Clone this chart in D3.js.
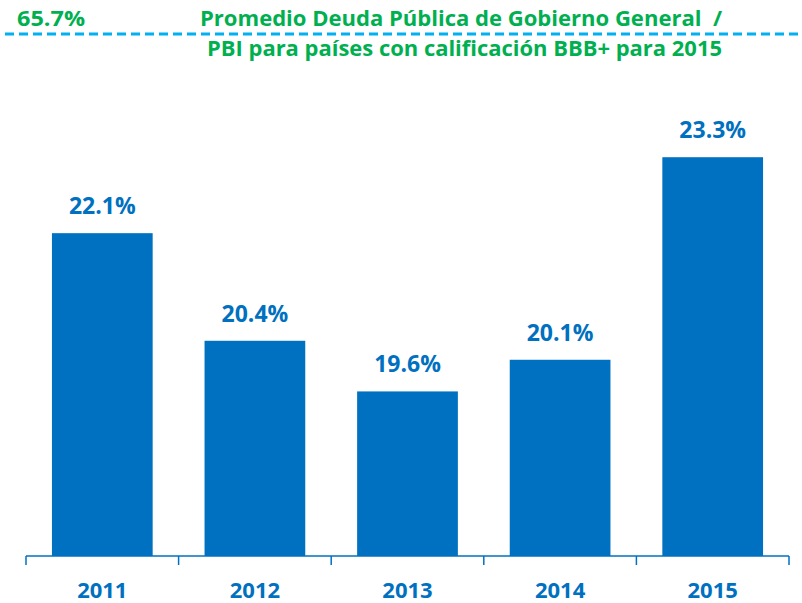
<!DOCTYPE html>
<html>
<head>
<meta charset="utf-8">
<script src="https://cdn.jsdelivr.net/npm/d3@7"></script>
<style>
  body { margin: 0; background: #fff; }
  text { font-family: "Open Sans", Lato, sans-serif; font-weight: bold; white-space: pre; }
</style>
</head>
<body>
<div id="chart"></div>
<script>
var years = ["2011", "2012", "2013", "2014", "2015"];
var values = [22.1, 20.4, 19.6, 20.1, 23.3];
var refValue = 65.7;
var titleLines = ["Promedio Deuda Pública de Gobierno General  /", "PBI para países con calificación BBB+ para 2015"];

var width = 802, height = 603;
var blue = "#0070C0", green = "#00B050";

var svg = d3.select("#chart").append("svg")
    .attr("width", width)
    .attr("height", height);

var x = d3.scaleBand()
    .domain(years)
    .range([26, 789])
    .paddingInner(0.34)
    .paddingOuter(0.17);

// axis does not start at zero in the original
var y = d3.scaleLinear()
    .domain([17, 25])
    .range([556, 49.6]);

// reference line
svg.append("line")
    .attr("x1", 5).attr("x2", 800)
    .attr("y1", 34).attr("y2", 34)
    .attr("stroke", "#00B0F0")
    .attr("stroke-width", 3)
    .attr("stroke-dasharray", "9,5");

svg.append("text")
    .attr("x", 17).attr("y", 26)
    .attr("textLength", 68)
    .attr("lengthAdjust", "spacingAndGlyphs")
    .attr("fill", green)
    .style("font-size", "22px")
    .text(refValue.toFixed(1) + "%");

svg.selectAll("text.title").data(titleLines)
    .enter().append("text")
    .attr("class", "title")
    .attr("x", function(d, i) { return i == 0 ? 200 : 207; })
    .attr("y", function(d, i) { return 26 + i * 30; })
    .attr("textLength", function(d, i) { return i == 0 ? 522 : 515; })
    .attr("lengthAdjust", "spacingAndGlyphs")
    .attr("fill", green)
    .style("font-size", "22px")
    .text(function(d) { return d; });

svg.selectAll("rect.bar").data(values)
    .enter().append("rect")
    .attr("class", "bar")
    .attr("x", function(d, i) { return x(years[i]); })
    .attr("width", x.bandwidth())
    .attr("y", function(d) { return y(d); })
    .attr("height", function(d) { return y.range()[0] - y(d); })
    .attr("fill", blue);

svg.selectAll("text.val").data(values)
    .enter().append("text")
    .attr("class", "val")
    .attr("x", function(d, i) { return x(years[i]) + x.bandwidth() / 2; })
    .attr("y", function(d) { return y(d) - 19; })
    .attr("text-anchor", "middle")
    .attr("fill", blue)
    .style("font-size", "23px")
    .text(function(d) { return d.toFixed(1) + "%"; });

// category axis with ticks between bars
var axisG = svg.append("g");
axisG.append("line")
    .attr("x1", 26).attr("x2", 789)
    .attr("y1", 556).attr("y2", 556)
    .attr("stroke", blue).attr("stroke-width", 1.5);

var step = x.step();
var tickPos = d3.range(years.length + 1).map(function(i) { return 26 + i * step; });
axisG.selectAll("line.tick").data(tickPos)
    .enter().append("line")
    .attr("class", "tick")
    .attr("x1", function(d) { return d; }).attr("x2", function(d) { return d; })
    .attr("y1", 556).attr("y2", 565)
    .attr("stroke", blue).attr("stroke-width", 1.5);

axisG.selectAll("text.year").data(years)
    .enter().append("text")
    .attr("class", "year")
    .attr("x", function(d) { return x(d) + x.bandwidth() / 2; })
    .attr("y", 598)
    .attr("text-anchor", "middle")
    .attr("fill", blue)
    .style("font-size", "22px")
    .text(function(d) { return d; });
</script>
</body>
</html>
